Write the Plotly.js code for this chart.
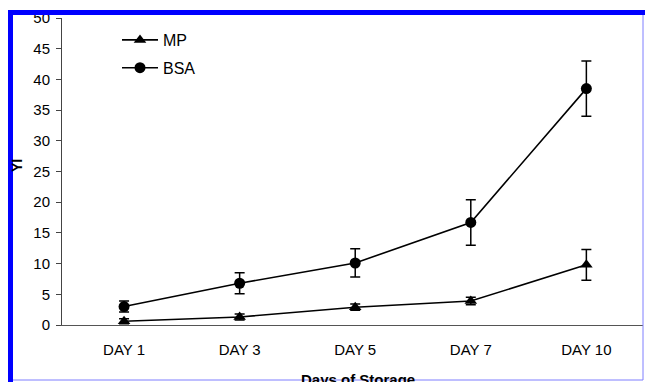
<!DOCTYPE html>
<html>
<head>
<meta charset="utf-8">
<script src="https://cdn.plot.ly/plotly-3.0.1.min.js"></script>
<style>
html,body{margin:0;padding:0;background:#fff;}
#chart{width:645px;height:382px;}
</style>
</head>
<body>
<div id="chart"></div>
<script>
const categories = ["DAY 1", "DAY 3", "DAY 5", "DAY 7", "DAY 10"];
const mpValues = [0.6, 1.3, 2.9, 3.9, 9.8];
const mpErrors = [0.4, 0.5, 0.5, 0.6, 2.5];
const bsaValues = [3.0, 6.8, 10.1, 16.7, 38.5];
const bsaErrors = [0.9, 1.7, 2.3, 3.7, 4.5];
const yTicks = [0, 5, 10, 15, 20, 25, 30, 35, 40, 45, 50];

const font = "Liberation Sans, Arial, sans-serif";

const traces = [
  {
    x: categories, y: mpValues, name: "MP", type: "scatter", mode: "lines+markers",
    legendgroup: "a",
    line: {color: "#000", width: 1.6},
    marker: {symbol: "triangle-up", size: 11, color: "#000"},
    error_y: {type: "data", array: mpErrors, visible: true, color: "#000", thickness: 1.5, width: 5},
    cliponaxis: false
  },
  {
    x: categories, y: bsaValues, name: "BSA", type: "scatter", mode: "lines+markers",
    legendgroup: "b",
    line: {color: "#000", width: 1.6},
    marker: {symbol: "circle", size: 11, color: "#000"},
    error_y: {type: "data", array: bsaErrors, visible: true, color: "#000", thickness: 1.5, width: 5},
    cliponaxis: false
  }
];

const layout = {
  width: 645, height: 382,
  margin: {l: 62, r: 2, t: 18, b: 57},
  paper_bgcolor: "#fff", plot_bgcolor: "#fff",
  font: {family: font, size: 15, color: "#000"},
  showlegend: true,
  legend: {
    x: (117 - 62) / 581, y: (325 - 23) / 307, xanchor: "left", yanchor: "top",
    font: {family: font, size: 16, color: "#000"},
    itemwidth: 36,
    bgcolor: "rgba(0,0,0,0)", traceorder: "grouped", tracegroupgap: 4
  },
  xaxis: {
    type: "category", range: [-0.537, 4.49],
    showgrid: false, zeroline: false,
    showline: true, linecolor: "#555", linewidth: 1,
    ticks: "", ticklabelstandoff: 11,
    tickfont: {family: font, size: 15, color: "#000"}
  },
  yaxis: {
    range: [0, 50], tickvals: yTicks,
    showgrid: false, zeroline: false,
    showline: true, linecolor: "#444", linewidth: 1,
    ticks: "outside", ticklen: 5, tickcolor: "#444",
    ticklabelstandoff: 3,
    tickfont: {family: font, size: 15, color: "#000"}
  },
  annotations: [
    {text: "<b>YI</b>", xref: "paper", yref: "paper", x: (17 - 62) / 581, y: (325 - 166) / 307,
     xanchor: "center", yanchor: "middle", textangle: -90, showarrow: false,
     font: {family: font, size: 14, color: "#000"}},
    {text: "<b>Days of Storage</b>", xref: "paper", yref: "paper", x: (358 - 62) / 581, y: -(379 - 325) / 307,
     xanchor: "center", yanchor: "middle", showarrow: false,
     font: {family: font, size: 15, color: "#000"}}
  ],
  shapes: [
    {type: "rect", xref: "paper", yref: "paper", layer: "above",
     x0: (8 - 62) / 581, x1: (13 - 62) / 581, y0: -(382 - 325) / 307, y1: (325 - 10) / 307,
     fillcolor: "#0000ff", line: {width: 0}},
    {type: "rect", xref: "paper", yref: "paper", layer: "above",
     x0: (8 - 62) / 581, x1: 1.01, y0: (325 - 10) / 307, y1: (325 - 15) / 307,
     fillcolor: "#0000ff", line: {width: 0}},
    {type: "line", xref: "paper", yref: "paper", layer: "above",
     x0: (643 - 62) / 581, x1: (643 - 62) / 581, y0: (325 - 15) / 307, y1: -(380 - 325) / 307,
     line: {color: "#7f7fff", width: 1}},
    {type: "line", xref: "paper", yref: "paper", layer: "above",
     x0: (13 - 62) / 581, x1: (643 - 62) / 581, y0: -(380 - 325) / 307, y1: -(380 - 325) / 307,
     line: {color: "#7f7fff", width: 1}}
  ]
};

Plotly.newPlot("chart", traces, layout, {displayModeBar: false, staticPlot: true});
</script>
</body>
</html>
